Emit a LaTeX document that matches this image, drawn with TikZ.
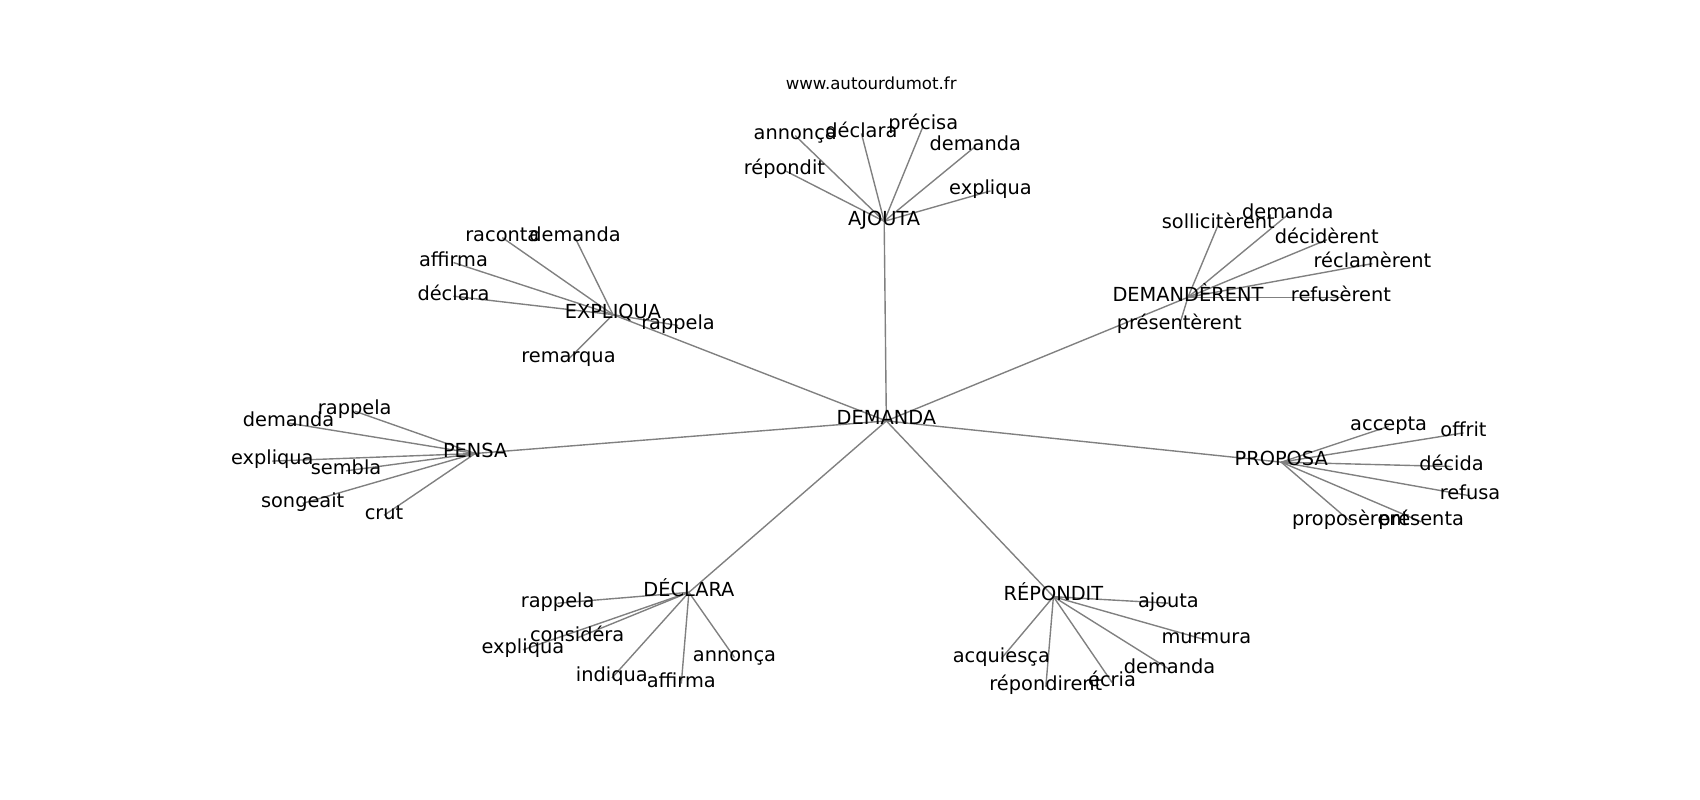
\documentclass[tikz,border=0pt]{standalone}
\usepackage{fontspec}
\setmainfont{DejaVu Sans}
\pgfdeclarelayer{bg}
\pgfsetlayers{bg,main}
\begin{document}
\begin{tikzpicture}[x=0.7812bp,y=-0.7812bp,
  lbl/.style={font=\fontsize{14}{16}\selectfont, inner sep=0pt, text height=0.76em, text depth=0.208em, anchor=center},
  ttl/.style={font=\fontsize{12}{14}\selectfont, inner sep=0pt, text height=0.76em, text depth=0.208em, anchor=center},
  edge/.style={draw=gray, line width=1bp}]
\useasboundingbox (0,-3) rectangle (1567,734);
\node[ttl] (title) at (803,76) {www.autourdumot.fr};
% hubs
\node[lbl] (root) at (817,385) {DEMANDA};
\node[lbl] (ajo) at (815,201) {AJOUTA};
\node[lbl] (exp) at (565,287) {EXPLIQUA};
\node[lbl] (dem) at (1095,271) {DEMANDÈRENT};
\node[lbl] (pen) at (438,415) {PENSA};
\node[lbl] (pro) at (1181,423) {PROPOSA};
\node[lbl] (dec) at (635,543) {DÉCLARA};
\node[lbl] (rep) at (971,547) {RÉPONDIT};
% AJOUTA
\node[lbl] (ajo1) at (733,122) {annonça};
\node[lbl] (ajo2) at (794,120) {déclara};
\node[lbl] (ajo3) at (851,113) {précisa};
\node[lbl] (ajo4) at (899,132) {demanda};
\node[lbl] (ajo5) at (723,154) {répondit};
\node[lbl] (ajo6) at (913,173) {expliqua};
% EXPLIQUA
\node[lbl] (exp1) at (463,216) {raconta};
\node[lbl] (exp2) at (530,216) {demanda};
\node[lbl] (exp3) at (418,239) {affirma};
\node[lbl] (exp4) at (418,270) {déclara};
\node[lbl] (exp5) at (625,297) {rappela};
\node[lbl] (exp6) at (524,328) {remarqua};
% DEMANDERENT
\node[lbl] (dem1) at (1123,204) {sollicitèrent};
\node[lbl] (dem2) at (1187,195) {demanda};
\node[lbl] (dem3) at (1223,218) {décidèrent};
\node[lbl] (dem4) at (1265,240) {réclamèrent};
\node[lbl] (dem5) at (1236,271) {refusèrent};
\node[lbl] (dem6) at (1087,297) {présentèrent};
% PENSA
\node[lbl] (pen1) at (327,376) {rappela};
\node[lbl] (pen2) at (266,387) {demanda};
\node[lbl] (pen3) at (251,422) {expliqua};
\node[lbl] (pen4) at (319,431) {sembla};
\node[lbl] (pen5) at (279,461) {songeait};
\node[lbl] (pen6) at (354,472) {crut};
% PROPOSA
\node[lbl] (pro1) at (1280,390) {accepta};
\node[lbl] (pro2) at (1349,396) {offrit};
\node[lbl] (pro3) at (1338,427) {décida};
\node[lbl] (pro4) at (1355,454) {refusa};
\node[lbl] (pro5) at (1245,478) {proposèrent};
\node[lbl] (pro6) at (1310,478) {présenta};
% DECLARA
\node[lbl] (dec1) at (514,553) {rappela};
\node[lbl] (dec2) at (532,585) {considéra};
\node[lbl] (dec3) at (482,596) {expliqua};
\node[lbl] (dec4) at (564,622) {indiqua};
\node[lbl] (dec5) at (628,627) {affirma};
\node[lbl] (dec6) at (677,603) {annonça};
% REPONDIT
\node[lbl] (rep1) at (1077,553) {ajouta};
\node[lbl] (rep2) at (1112,587) {murmura};
\node[lbl] (rep3) at (1078,614) {demanda};
\node[lbl] (rep4) at (1025,626) {écria};
\node[lbl] (rep5) at (964,630) {répondirent};
\node[lbl] (rep6) at (923,604) {acquiesça};
\begin{pgfonlayer}{bg}
\foreach \h in {ajo,exp,dem,pen,pro,dec,rep}{
  \draw[edge] (root.center) -- (\h.center);
  \foreach \i in {1,...,6}{
    \draw[edge] (\h.center) -- (\h\i.center);
  }
}
\end{pgfonlayer}
\end{tikzpicture}
\end{document}
